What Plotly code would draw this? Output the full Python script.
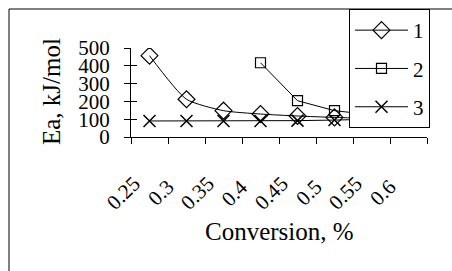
import plotly.graph_objects as go

categories = ["0.25", "0.3", "0.35", "0.4", "0.45", "0.5", "0.55", "0.6"]
series1 = [457, 212, 148, 129, 118, 110, 105, None]
series2 = [None, None, None, 417, 204, 148, 125, None]
series3 = [90, 90, 90, 90, 92, 95, 100, None]
names = ["1", "2", "3"]
x_title = "Conversion, %"
y_title = "Ea, kJ/mol"

W, H = 452, 271
L, R, T, B = 131, 25, 48, 134
pw, ph = W - L - R, H - T - B

def px(x):
    return (x - L) / pw

def py(y):
    return (H - B - y) / ph

FAM = "Liberation Serif"
tick_font = dict(family=FAM, size=21, color="black")
title_font = dict(family=FAM, size=25, color="black")
leg_font = dict(family=FAM, size=21, color="black")
hidden_font = dict(family=FAM, size=21, color="rgba(0,0,0,0)")

fig = go.Figure()
fig.add_trace(go.Scatter(x=categories, y=series1, name=names[0], mode="lines+markers",
                         line=dict(color="black", width=1, shape="spline", smoothing=0.6),
                         marker=dict(symbol="diamond-open", size=13, color="black", line=dict(width=1.2)),
                         legendgroup="a"))
fig.add_trace(go.Scatter(x=categories, y=series2, name=names[1], mode="lines+markers",
                         line=dict(color="black", width=1),
                         marker=dict(symbol="square-open", size=10, color="black", line=dict(width=1.2)),
                         legendgroup="b"))
fig.add_trace(go.Scatter(x=categories, y=series3, name=names[2], mode="lines+markers",
                         line=dict(color="black", width=1),
                         marker=dict(symbol="x-thin-open", size=12, color="black", line=dict(width=1.5, color="black")),
                         legendgroup="c"))
# helper trace for inner y ticks (ticks crossing the axis)
fig.add_trace(go.Scatter(x=categories, y=[None]*len(categories), yaxis="y2",
                         showlegend=False, hoverinfo="skip"))

annotations = [
    dict(text=x_title, xref="paper", yref="paper", x=px(279), y=py(232),
         xanchor="center", yanchor="middle", showarrow=False, font=title_font),
    dict(text=y_title, xref="paper", yref="paper", x=px(51), y=py(92),
         xanchor="center", yanchor="middle", showarrow=False, textangle=-90, font=title_font),
]
# rotated category labels (Excel-style placement) at the category centres of the x domain
n = len(categories)
for i, c in enumerate(categories):
    annotations.append(dict(text=c, xref="paper", yref="paper", x=(i + 0.5) / n, y=py(193),
                            xshift=-26, xanchor="center", yanchor="middle", showarrow=False,
                            textangle=-45, font=tick_font))

fig.update_layout(
    width=W, height=H,
    margin=dict(l=L, r=R, t=T, b=B, autoexpand=False),
    paper_bgcolor="white", plot_bgcolor="white",
    font=tick_font,
    showlegend=True,
    legend=dict(x=px(349), y=py(9), xanchor="left", yanchor="top",
                bordercolor="black", borderwidth=1, bgcolor="white",
                font=leg_font, tracegroupgap=8, itemwidth=53),
    xaxis=dict(type="category", categoryorder="array", categoryarray=categories,
               range=[-0.5, 7.5], tickson="boundaries", ticks="outside", ticklen=6,
               tickcolor="black", showline=True, linecolor="black", linewidth=1,
               showgrid=False, zeroline=False, tickfont=hidden_font),
    yaxis=dict(range=[0, 500], dtick=100, ticks="outside", ticklen=6, tickcolor="black",
               showline=True, linecolor="black", linewidth=1, showgrid=False, zeroline=False,
               tickfont=tick_font, ticklabelstandoff=10),
    yaxis2=dict(range=[0, 500], dtick=100, ticks="inside", ticklen=6, tickcolor="black",
                overlaying="y", side="left", showticklabels=False, showline=False,
                showgrid=False, zeroline=False, anchor="x"),
    shapes=[dict(type="rect", xref="paper", yref="paper",
                 x0=px(9), x1=px(470), y0=py(290), y1=py(9),
                 line=dict(color="black", width=1), fillcolor="rgba(0,0,0,0)", layer="below")],
    annotations=annotations,
)

fig.write_html("out.html", post_script="document.body.style.margin='0';",
               config={"displayModeBar": False})
